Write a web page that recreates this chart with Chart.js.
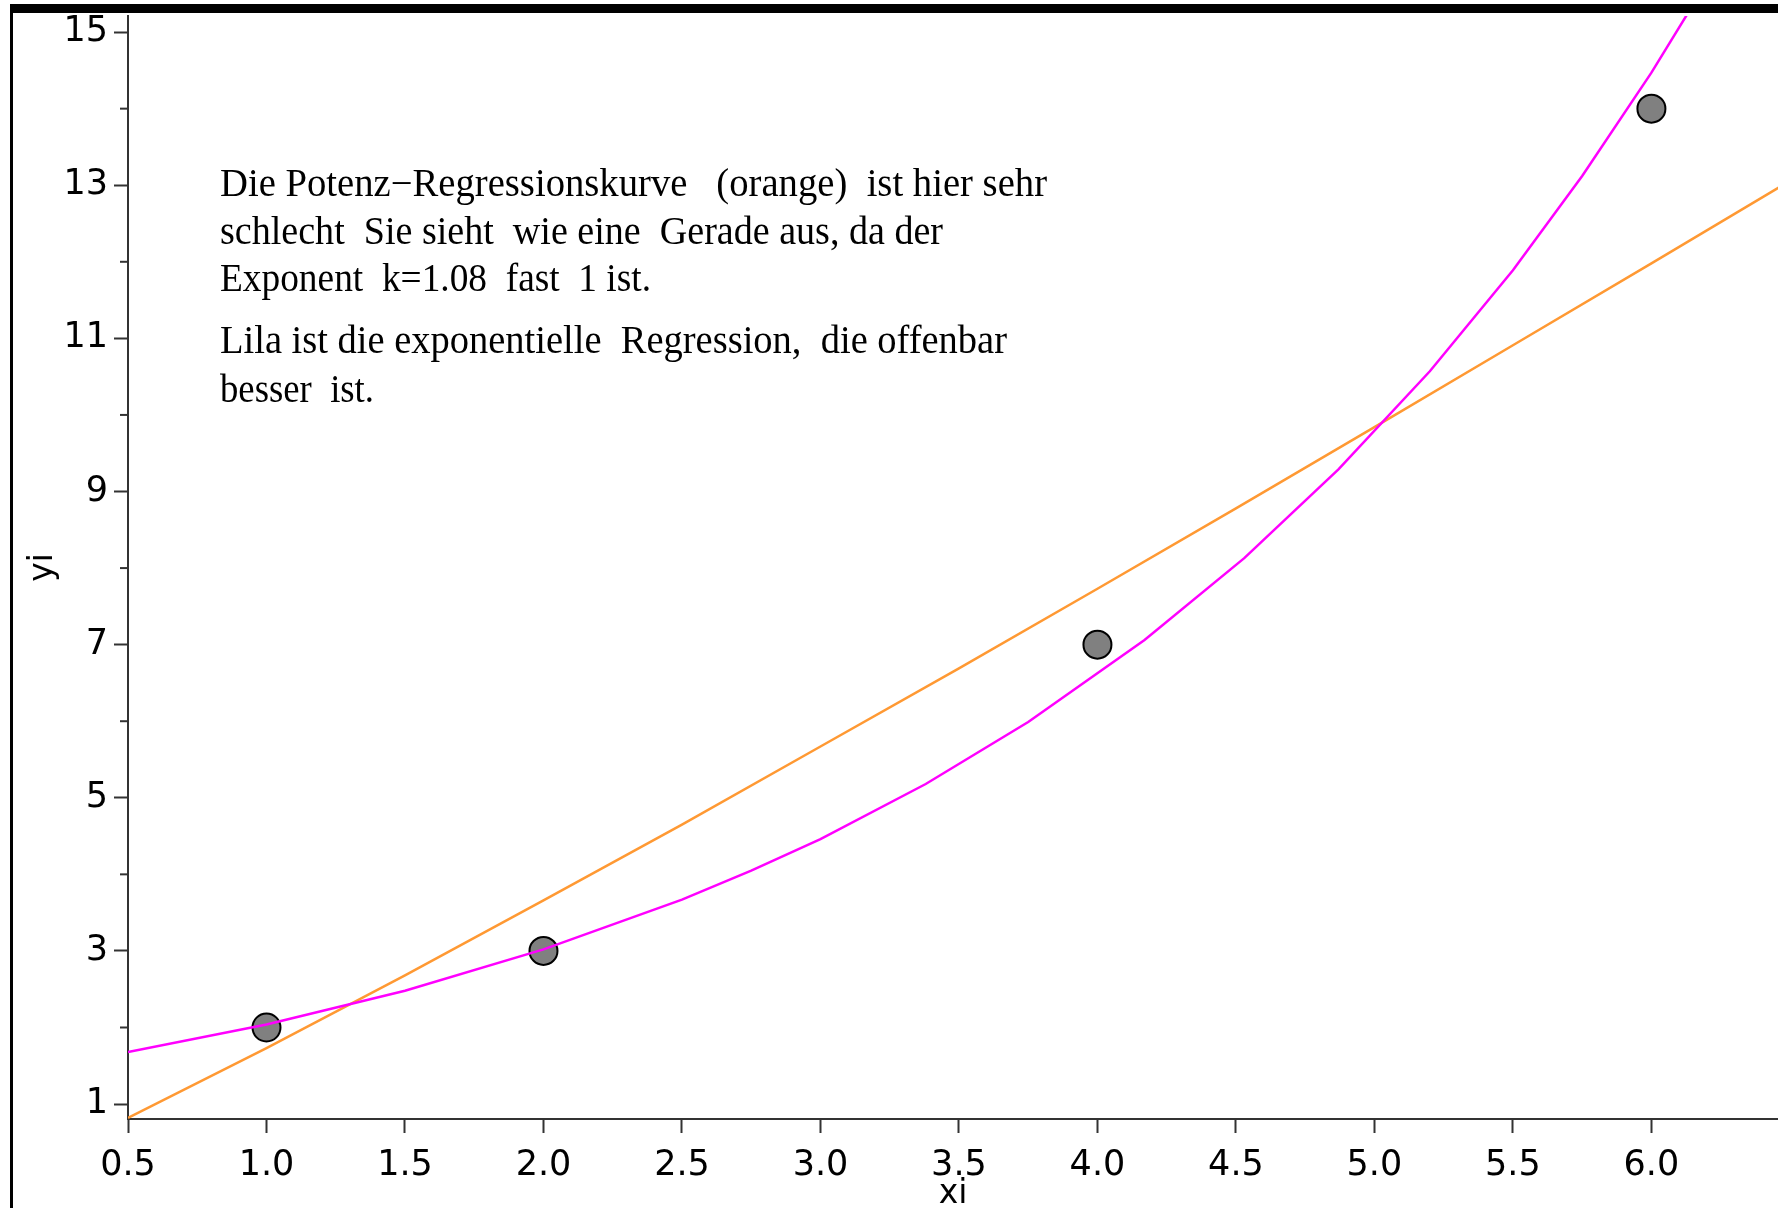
<html>
<body style="margin:0;background:#fff;">
<canvas id="regression" width="1778" height="1208"></canvas>

<script src="https://cdn.jsdelivr.net/npm/chart.js"></script>

<script>
    // measured points
    var xi = [1, 2, 4, 6];
    var yi = [2, 3, 7, 14];

    // orange: power regression (k=1.08), vertices
    var powerX = [0.5, 1.0, 1.5, 2.0, 2.5, 3.0, 3.5, 4.0, 4.5, 5.0, 5.5, 6.0, 6.46];
    var powerY = [0.82, 1.73, 2.68, 3.66, 4.65, 5.67, 6.69, 7.73, 8.78, 9.84, 10.91, 11.98, 12.97];

    // magenta: exponential regression
    var expX = [0.5, 1.0, 1.5, 2.0, 2.5, 2.75, 3.0, 3.38, 3.75, 4.17, 4.53, 4.87, 5.2, 5.5, 5.75, 6.0, 6.2];
    var expY = [1.68, 2.04, 2.48, 3.02, 3.67, 4.05, 4.46, 5.18, 5.99, 7.06, 8.13, 9.29, 10.57, 11.89, 13.12, 14.47, 15.65];

    var xTicks = [0.5, 1.0, 1.5, 2.0, 2.5, 3.0, 3.5, 4.0, 4.5, 5.0, 5.5, 6.0];
    var yTicks = [1, 3, 5, 7, 9, 11, 13, 15];
    var yMinor = [2, 4, 6, 8, 10, 12, 14];

    var noteLines = [
        'Die Potenz\u2212Regressionskurve   (orange)  ist hier sehr',
        'schlecht  Sie sieht  wie eine  Gerade aus, da der',
        'Exponent  k=1.08  fast  1 ist.',
        'Lila ist die exponentielle  Regression,  die offenbar',
        'besser  ist.'
    ];

    function pairs(xs, ys) {
        return xs.map((x, i) => ({x: x, y: ys[i]}));
    }

    var axisColor = '#333333';

    // short ticks at the even y values, plus the note text and the frame
    var extras = {
        id: 'extras',
        afterDraw(chart) {
            var ctx = chart.ctx;
            var y = chart.scales.y;
            ctx.save();
            ctx.strokeStyle = axisColor;
            ctx.lineWidth = 2;
            yMinor.forEach(v => {
                var py = y.getPixelForValue(v);
                ctx.beginPath();
                ctx.moveTo(y.right - 8, py);
                ctx.lineTo(y.right, py);
                ctx.stroke();
            });

            ctx.fillStyle = '#000';
            ctx.font = "39px 'Liberation Serif'";
            ctx.textBaseline = 'alphabetic';
            var baselines = [196, 244, 291, 353, 402];
            var widths = [827, 723, 431, 787, 154];
            noteLines.forEach((line, i) => {
                var w = ctx.measureText(line).width;
                ctx.save();
                ctx.translate(220, baselines[i]);
                ctx.scale(widths[i] / w, 1);
                ctx.fillText(line, 0, 0);
                ctx.restore();
            });

            ctx.fillRect(10, 4, chart.width - 10, 9);
            ctx.fillRect(10, 4, 3, chart.height - 4);
            ctx.restore();
        }
    };

    Chart.defaults.font.family = "'DejaVu Sans'";
    Chart.defaults.color = '#000';

    var chart = new Chart(document.getElementById('regression'), {
        type: 'scatter',
        data: {
            datasets: [
                {
                    label: 'exponentiell',
                    data: pairs(expX, expY),
                    showLine: true,
                    borderColor: '#ff00ff',
                    borderWidth: 2.5,
                    pointRadius: 0,
                    tension: 0
                },
                {
                    label: 'Potenz',
                    data: pairs(powerX, powerY),
                    showLine: true,
                    borderColor: '#ff9933',
                    borderWidth: 2.5,
                    pointRadius: 0,
                    tension: 0
                },
                {
                    label: 'Messwerte',
                    data: pairs(xi, yi),
                    showLine: false,
                    backgroundColor: '#808080',
                    borderColor: '#000',
                    borderWidth: 2,
                    pointRadius: 14
                }
            ]
        },
        options: {
            responsive: false,
            animation: false,
            events: [],
            layout: {autoPadding: false, padding: {top: 16, left: 0, right: 0, bottom: 0}},
            plugins: {
                legend: {display: false},
                tooltip: {enabled: false}
            },
            scales: {
                x: {
                    type: 'linear',
                    min: 0.5,
                    max: 6.457,
                    afterBuildTicks: s => { s.ticks = xTicks.map(v => ({value: v})); },
                    afterFit: s => { s.height = 89; s.paddingLeft = 0; s.paddingRight = 0; },
                    border: {color: axisColor, width: 2},
                    grid: {drawOnChartArea: false, tickLength: 14, tickColor: axisColor, tickWidth: 2},
                    ticks: {
                        font: {size: 35},
                        padding: 12,
                        maxRotation: 0,
                        autoSkip: false,
                        callback: v => v.toFixed(1)
                    },
                    title: {display: true, text: 'xi', font: {size: 33, lineHeight: 0.8}, padding: {top: 0, bottom: 0}}
                },
                y: {
                    type: 'linear',
                    min: 0.805,
                    max: 15.21,
                    afterBuildTicks: s => { s.ticks = yTicks.map(v => ({value: v})); },
                    afterFit: s => { s.width = 128; s.paddingTop = 0; s.paddingBottom = 0; },
                    border: {color: axisColor, width: 2},
                    grid: {drawOnChartArea: false, tickLength: 14, tickColor: axisColor, tickWidth: 2},
                    ticks: {
                        font: {size: 35},
                        padding: 6,
                        autoSkip: false,
                        callback: v => String(v)
                    },
                    title: {display: true, text: 'yi', font: {size: 33}, padding: {top: 24, bottom: 0}}
                }
            }
        },
        plugins: [extras]
    });
</script>
</body>
</html>
